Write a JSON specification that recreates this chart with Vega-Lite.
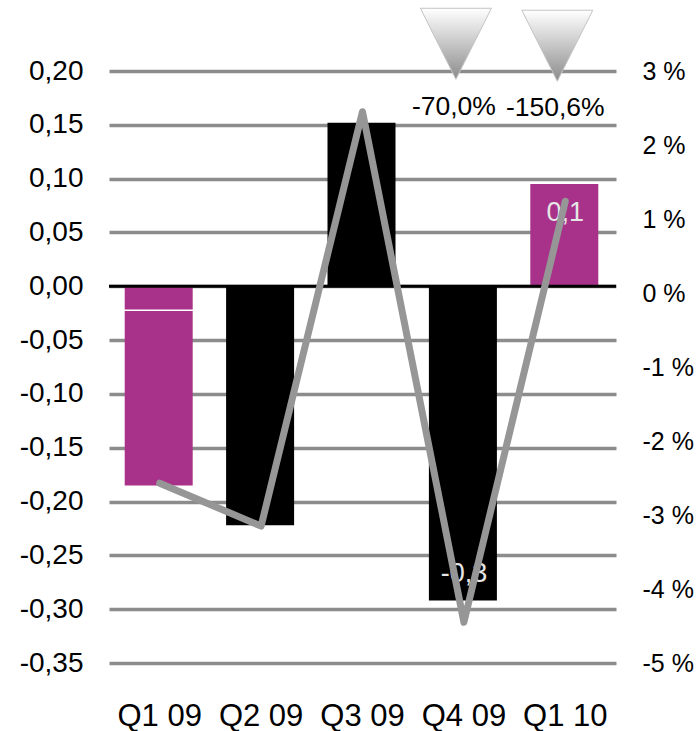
{"$schema":"https://vega.github.io/schema/vega-lite/v6.json","width":507,"height":592,"autosize":{"type":"none"},"padding":{"left":109,"top":71,"right":83,"bottom":68},"background":"white","config":{"view":{"stroke":null},"font":"Liberation Sans"},"title":{"text":"Marketplaces, MEUR & %","anchor":"start","frame":"group","dx":-103,"offset":50,"baseline":"alphabetic","font":"Liberation Sans","fontSize":29,"fontWeight":"normal","color":"#000000"},"datasets":{"bars":[{"quarter":"Q1 09","from":0,"to":-0.0215,"kind":"a"},{"quarter":"Q1 09","from":-0.023,"to":-0.185,"kind":"a"},{"quarter":"Q2 09","from":0,"to":-0.222,"kind":"b"},{"quarter":"Q3 09","from":0,"to":0.152,"kind":"b"},{"quarter":"Q4 09","from":0,"to":-0.292,"kind":"b"},{"quarter":"Q1 10","from":0,"to":0.095,"kind":"a"}],"line":[{"quarter":"Q1 09","pct":-2.57},{"quarter":"Q2 09","pct":-3.15},{"quarter":"Q3 09","pct":2.45},{"quarter":"Q4 09","pct":-4.45},{"quarter":"Q1 10","pct":1.24}],"inner":[{"quarter":"Q4 09","pos":-0.267,"label":"-0,3"},{"quarter":"Q1 10","pos":0.068,"label":"0,1"}],"outer":[{"quarter":"Q4 09","pos":0.167,"label":"-70,0%"},{"quarter":"Q1 10","pos":0.166,"label":"-150,6%"}],"tri":[{"quarter":"Q4 09","pos":0.2253},{"quarter":"Q1 10","pos":0.2235}],"zero":[{"v":0}]},"layer":[{"data":{"name":"bars"},"mark":{"type":"bar","width":68,"xOffset":-1},"encoding":{"x":{"field":"quarter","type":"nominal","sort":["Q1 09","Q2 09","Q3 09","Q4 09","Q1 10"],"scale":{"paddingInner":0.33,"paddingOuter":0.165},"axis":{"title":null,"domain":false,"ticks":false,"labelAngle":0,"labelPadding":38,"labelFontSize":31,"labelFont":"Liberation Sans","labelColor":"#000000"}},"y":{"field":"from","type":"quantitative","scale":{"domain":[-0.35,0.2],"nice":false,"zero":false},"axis":{"title":null,"orient":"left","values":[0.2,0.15,0.1,0.05,0,-0.05,-0.1,-0.15,-0.2,-0.25,-0.3,-0.35],"labelExpr":"replace(replace(format(datum.value,'.2f'),'.',','),'−','-')","domain":false,"ticks":false,"labelPadding":26,"labelFontSize":28,"labelFont":"Liberation Sans","labelColor":"#000000","grid":true,"gridColor":"#8c8c8c","gridWidth":3.5}},"y2":{"field":"to"},"color":{"field":"kind","type":"nominal","legend":null,"scale":{"domain":["a","b"],"range":["#a8328a","#000000"]}}}},{"data":{"name":"zero"},"mark":{"type":"rule","color":"#000000","strokeWidth":3},"encoding":{"y":{"field":"v","type":"quantitative","scale":{"domain":[-0.35,0.2],"nice":false,"zero":false},"axis":null}}},{"data":{"name":"tri"},"mark":{"type":"point","filled":true,"shape":"M-0.5,-0.5L0.5,-0.5L0,0.5Z","size":20164,"xOffset":-8,"opacity":1,"stroke":"#c4c4c4","strokeWidth":1,"fill":{"gradient":"linear","x1":0,"y1":0,"x2":0,"y2":1,"stops":[{"offset":0,"color":"#ffffff"},{"offset":0.35,"color":"#d8d8d8"},{"offset":0.65,"color":"#b4b4b4"},{"offset":1,"color":"#8c8c8c"}]}},"encoding":{"x":{"field":"quarter","type":"nominal","sort":["Q1 09","Q2 09","Q3 09","Q4 09","Q1 10"]},"y":{"field":"pos","type":"quantitative","scale":{"domain":[-0.35,0.2],"nice":false,"zero":false},"axis":null}}},{"data":{"name":"outer"},"mark":{"type":"text","font":"Liberation Sans","fontSize":26.5,"color":"#000000","xOffset":-10,"align":"center","baseline":"middle"},"encoding":{"x":{"field":"quarter","type":"nominal","sort":["Q1 09","Q2 09","Q3 09","Q4 09","Q1 10"]},"y":{"field":"pos","type":"quantitative","scale":{"domain":[-0.35,0.2],"nice":false,"zero":false},"axis":null},"text":{"field":"label"}}},{"data":{"name":"inner"},"mark":{"type":"text","font":"Liberation Sans","fontSize":27,"color":"#e6e6e6","align":"center","baseline":"middle"},"encoding":{"x":{"field":"quarter","type":"nominal","sort":["Q1 09","Q2 09","Q3 09","Q4 09","Q1 10"]},"y":{"field":"pos","type":"quantitative","scale":{"domain":[-0.35,0.2],"nice":false,"zero":false},"axis":null},"text":{"field":"label"}}},{"data":{"name":"line"},"mark":{"type":"line","color":"#969696","strokeWidth":7,"strokeCap":"round","strokeJoin":"round"},"encoding":{"x":{"field":"quarter","type":"nominal","sort":["Q1 09","Q2 09","Q3 09","Q4 09","Q1 10"]},"y":{"field":"pct","type":"quantitative","scale":{"domain":[-5,3],"nice":false,"zero":false},"axis":{"title":null,"orient":"right","values":[3,2,1,0,-1,-2,-3,-4,-5],"labelExpr":"replace(format(datum.value,'d'),'−','-')+' %'","domain":false,"ticks":false,"grid":false,"labelPadding":26,"labelFontSize":25,"labelFont":"Liberation Sans","labelColor":"#000000"}}}}],"resolve":{"scale":{"y":"independent"}}}
